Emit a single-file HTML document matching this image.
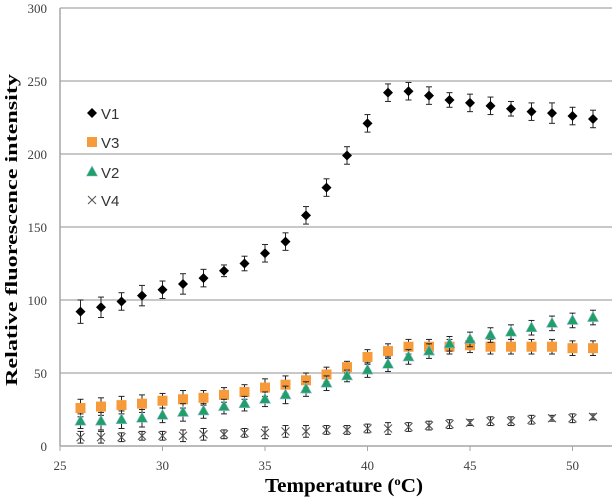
<!DOCTYPE html>
<html><head><meta charset="utf-8"><style>
body{margin:0;background:#fff;width:612px;height:499px;overflow:hidden}
svg{display:block}
</style></head><body>
<svg id="chart" width="612" height="499" xmlns="http://www.w3.org/2000/svg"></svg>
<script>
const temps=[26,27,28,29,30,31,32,33,34,35,36,37,38,39,40,41,42,43,44,45,46,47,48,49,50,51];
const v1=[92,95,99,103,107,111,115,120,125,132,140,158,177,199,221,242,243,240,237,235,233,231,229,228,226,224];
const v3=[26,27,28,29,31,32,33,35,37,40,42,45,49,54,61,65,68,68,68,69,68,68,68,68,67,67];
const v2=[17,17,18,19,21,23,24,27,29,32,35,39,43,48,52,56,61,65,70,73,76,78,81,84,86,88];
const v4=[6,6,6,7,7,7,8,8,9,9,10,10,11,11,12,12,13,14,15,16,17,17,18,19,19,20];
const e1=[8,7,6,7,6,7,6,4,5,6,6,6,6,6,6,6,6,6,5,6,6,5,6,7,6,6];
const e3=[6,6,6,6,5,6,5,5,5,6,6,5,5,4,5,5,5,5,5,5,5,5,5,5,5,5];
const e2=[5,6,6,6,5,6,5,5,5,5,6,5,5,4,5,5,5,5,5,5,5,5,5,5,5,5];
const e4=[4,4,3,3,3,4,4,3,3,4,4,4,3,3,3,4,3,3,3,2,3,3,3,2,3,2];
const yTicks=[0,50,100,150,200,250,300];
const xTicks=[25,30,35,40,45,50];
const NS='http://www.w3.org/2000/svg';
const svg=document.getElementById('chart');
const X=t=>60+(t-25)*20.5;
const Y=v=>446-v*(438/300);
function mk(tag,attrs,parent){const e=document.createElementNS(NS,tag);for(const k in attrs)e.setAttribute(k,attrs[k]);(parent||svg).appendChild(e);return e;}
yTicks.forEach(v=>{
 if(v>0){const g=mk('line',{x1:60,x2:612,y1:Y(v),y2:Y(v),stroke:'#a6a6a6','stroke-width':1.2});
 
 }
 const t=mk('text',{x:47,y:Y(v)+5,'text-anchor':'end','font-family':'Liberation Serif, serif','font-size':13,fill:'#404040'});
 t.textContent=v;
 
 
});
const ax=mk('line',{x1:60,x2:60,y1:8,y2:446,stroke:'#a6a6a6','stroke-width':1.5});


const bx=mk('line',{x1:60,x2:612,y1:446,y2:446,stroke:'#a6a6a6','stroke-width':1.5});


xTicks.forEach(t=>{
 const tk=mk('line',{x1:X(t),x2:X(t),y1:446,y2:451,stroke:'#a6a6a6'});
 
 
 const l=mk('text',{x:X(t),y:470,'text-anchor':'middle','font-family':'Liberation Serif, serif','font-size':13,fill:'#404040'});
 l.textContent=t;
 
 
});
function errbar(t,v,e){
 const g=mk('g',{stroke:'#222','stroke-width':1});
 
 
 const x=X(t),a=Y(v+e),b=Y(v-e);
 mk('line',{x1:x,x2:x,y1:a,y2:b},g);
 mk('line',{x1:x-3,x2:x+3,y1:a,y2:a},g);
 mk('line',{x1:x-3,x2:x+3,y1:b,y2:b},g);
}
function marker(kind,x,y){
 let m;
 if(kind==='v1')m=mk('polygon',{points:`${x},${y-5} ${x+5},${y} ${x},${y+5} ${x-5},${y}`,fill:'#000'});
 else if(kind==='v3')m=mk('rect',{x:x-5,y:y-5,width:10,height:10,fill:'#f79a3a'});
 else if(kind==='v2')m=mk('polygon',{points:`${x},${y-6} ${x+5.5},${y+4} ${x-5.5},${y+4}`,fill:'#1fa065',stroke:'#8fb3d9','stroke-width':0.6});
 else {m=mk('g',{stroke:'#555','stroke-width':1.1});mk('line',{x1:x-4,y1:y-4,x2:x+4,y2:y+4},m);mk('line',{x1:x-4,y1:y+4,x2:x+4,y2:y-4},m);}
 return m;
}
const series=[['v4',v4,e4],['v1',v1,e1],['v3',v3,e3],['v2',v2,e2]];
series.forEach(([k,vals,errs])=>{
 temps.forEach((t,i)=>{
  errbar(t,vals[i],errs[i]);
  const m=marker(k,X(t),Y(vals[i]));
  
  
 });
});
const leg=[['v1','V1',113],['v3','V3',142],['v2','V2',172],['v4','V4',200]];
leg.forEach(([k,lab,y])=>{
 const m=marker(k,92,y);
 
 
 const t=mk('text',{x:101,y:y+6,'font-family':'Liberation Sans, sans-serif','font-size':15,fill:'#333'});
 t.textContent=lab;
 
 
});
const xt=mk('text',{x:265,y:492,'font-family':'Liberation Serif, serif','font-size':20,'font-weight':'bold',fill:'#000',textLength:158,lengthAdjust:'spacingAndGlyphs'});
xt.innerHTML='Temperature (<tspan font-size="12" dy="-7">o</tspan><tspan dy="7">C)</tspan>';


const yt=mk('text',{x:0,y:0,transform:'translate(17,230) rotate(-90)','text-anchor':'middle','font-family':'Liberation Serif, serif','font-size':17,'font-weight':'bold',fill:'#000',textLength:312,lengthAdjust:'spacingAndGlyphs'});
yt.textContent='Relative fluorescence intensity';


</script>
</body></html>
